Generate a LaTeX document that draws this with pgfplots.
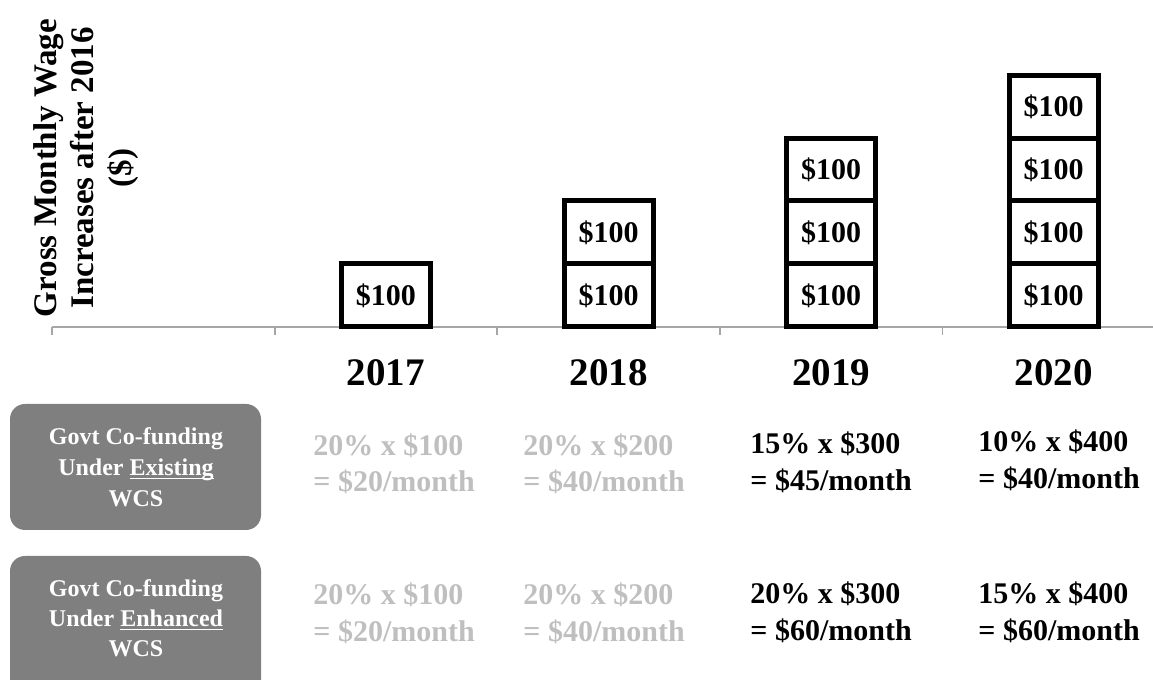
\documentclass[border=0pt]{standalone}
\usepackage{pgfplots}
\pgfplotsset{compat=1.18}
\usepackage{fontspec}
\setmainfont{Liberation Serif}
\definecolor{boxgrey}{RGB}{127,127,127}
\definecolor{txtgrey}{RGB}{191,191,191}
\definecolor{axgrey}{RGB}{166,166,166}
\newcommand\ul[1]{\setbox0\hbox{#1}\rlap{\rule[-1.6pt]{\wd0}{0.7pt}}\box0}
\begin{document}
\begin{tikzpicture}
\useasboundingbox (0,0) rectangle (576.5pt,340pt);
\begin{axis}[
  at={(26pt,176.5pt)}, anchor=south west,
  width=550.5pt, height=126pt, scale only axis,
  xmin=-0.5, xmax=4.446, ymin=0, ymax=400,
  axis x line*=bottom, axis y line=none,
  x axis line style={axgrey, line width=0.9pt},
  xtick={0,1,2,3,4},
  xticklabels={,2017,2018,2019,2020},
  major tick length=0pt,
  minor xtick={-0.5,0.5,1.5,2.5,3.5},
  minor tick length=4pt,
  tick align=outside,
  minor tick style={axgrey, line width=0.9pt},
  xticklabel style={font=\fontsize{19.5}{22}\selectfont\bfseries, anchor=base, yshift=-29.5pt, inner sep=0pt},
  ybar, bar width=44.5pt, bar shift=0pt,
  clip=false,
  nodes near coords={\$100},
  every node near coord/.append style={anchor=center, yshift=-15.75pt, font=\fontsize{15}{17}\selectfont\bfseries, text=black, fill=none, draw=none},
]
\addplot[draw=black, fill=white, line width=2.5pt, line join=miter] coordinates {(4,400)};
\addplot[draw=black, fill=white, line width=2.5pt, line join=miter] coordinates {(3,300) (4,300)};
\addplot[draw=black, fill=white, line width=2.5pt, line join=miter] coordinates {(2,200) (3,200) (4,200)};
\addplot[draw=black, fill=white, line width=2.5pt, line join=miter] coordinates {(1,100) (2,100) (3,100) (4,100)};
\end{axis}
\begin{scope}[shift={(0pt,340pt)}, x=0.5pt, y=-0.5pt]
  % y label
  \node[rotate=90, align=center, font=\fontsize{16.5}{18.75}\selectfont\bfseries, inner sep=0pt] at (86,168)
    {Gross Monthly Wage\\Increases after 2016\\(\$)};
  % boxes
  \fill[boxgrey, rounded corners=7.5pt] (10,404) rectangle (261,530);
  \fill[boxgrey, rounded corners=7.5pt] (10,556) rectangle (261,700);
  \begin{scope}[every node/.style={anchor=base, inner sep=0pt, text=white, font=\fontsize{12}{14}\selectfont\bfseries}]
    \node at (136,445) {Govt Co-funding};
    \node at (136,476) {Under \ul{Existing}};
    \node at (136,507) {WCS};
    \node at (136,597) {Govt Co-funding};
    \node at (136,627) {Under \ul{Enhanced}};
    \node at (136,657) {WCS};
  \end{scope}
  \begin{scope}[every node/.style={anchor=base west, inner sep=0pt, font=\fontsize{15}{17}\selectfont\bfseries}]
    \node[text=txtgrey] at (313,456) {20\% x \$100};
    \node[text=txtgrey] at (313,492) {= \$20/month};
    \node[text=txtgrey] at (523,456) {20\% x \$200};
    \node[text=txtgrey] at (523,492) {= \$40/month};
    \node[text=black] at (750,454) {15\% x \$300};
    \node[text=black] at (750,491) {= \$45/month};
    \node[text=black] at (978,452) {10\% x \$400};
    \node[text=black] at (978,489) {= \$40/month};
    \node[text=txtgrey] at (313,605) {20\% x \$100};
    \node[text=txtgrey] at (313,642) {= \$20/month};
    \node[text=txtgrey] at (523,605) {20\% x \$200};
    \node[text=txtgrey] at (523,642) {= \$40/month};
    \node[text=black] at (750,604) {20\% x \$300};
    \node[text=black] at (750,641) {= \$60/month};
    \node[text=black] at (978,604) {15\% x \$400};
    \node[text=black] at (978,641) {= \$60/month};
  \end{scope}
\end{scope}
\end{tikzpicture}
\end{document}
